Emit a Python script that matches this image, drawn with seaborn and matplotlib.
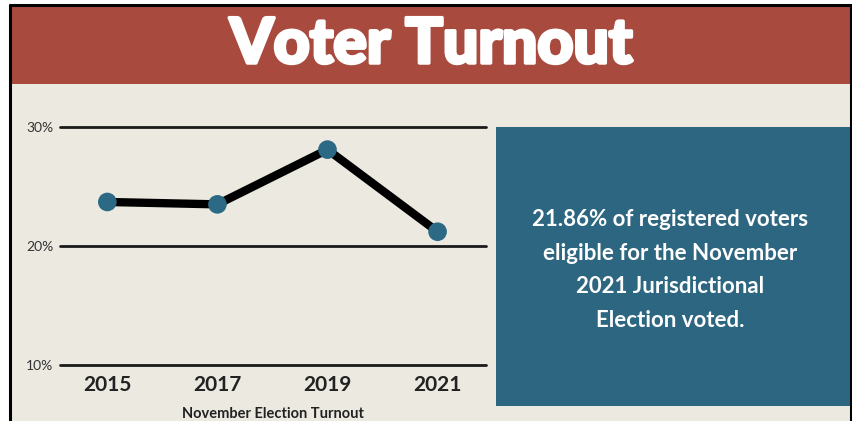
import matplotlib
matplotlib.use("Agg")
import matplotlib.pyplot as plt
import matplotlib.patheffects as pe
from matplotlib.patches import Rectangle
from matplotlib.lines import Line2D
import seaborn as sns
import pandas as pd

# data
years = ["2015", "2017", "2019", "2021"]
turnout = [23.7, 23.5, 28.1, 21.2]
y_ticks = [10, 20, 30]
y_tick_labels = ["10%", "20%", "30%"]
title = "Voter Turnout"
x_title = "November Election Turnout"
note = "21.86% of registered voters\neligible for the November\n2021 Jurisdictional\nElection voted."

RED = "#a84a3d"
TEAL = "#2d6680"
DOT = "#2b6984"
BEIGE = "#ece9e1"

sns.set_theme(style="white")
plt.rcParams["font.family"] = ["Lato", "DejaVu Sans"]

W, H = 853, 421
fig = plt.figure(figsize=(W / 100, H / 100), dpi=100)
fig.patch.set_facecolor("white")


def fx(px):
    return px / W


def fy(py):
    return 1 - py / H


# page background, banner and frame (behind the axes)
fig.patches.append(Rectangle((fx(11), 0), fx(840), fy(6), transform=fig.transFigure,
                             facecolor=BEIGE, edgecolor="none", zorder=-3))
fig.patches.append(Rectangle((fx(11), fy(84)), fx(840), fy(7) - fy(84), transform=fig.transFigure,
                             facecolor=RED, edgecolor="none", zorder=-2))
for xs, ys in [([fx(10), fx(10)], [0, fy(5)]), ([fx(851), fx(851)], [0, fy(5)]),
               ([fx(10), fx(851)], [fy(5), fy(5)])]:
    fig.lines.append(Line2D(xs, ys, transform=fig.transFigure, color="black", lw=2.2, zorder=5))

fig.text(fx(431), fy(45), title, ha="center", va="center", color="white",
         fontsize=45, fontweight="black", zorder=3,
         path_effects=[pe.withStroke(linewidth=2.5, foreground="white")])

# teal note box
fig.patches.append(Rectangle((fx(496), fy(406)), fx(850) - fx(496), fy(127) - fy(406),
                             transform=fig.transFigure, facecolor=TEAL, edgecolor="none", zorder=-2))
fig.text(fx(670), fy(270), note, ha="center", va="center", color="white",
         fontsize=16, fontweight="bold", linespacing=1.76, zorder=3)

# line chart
ax = fig.add_axes([fx(60), fy(365), fx(486) - fx(60), fy(127) - fy(365)])
ax.set_facecolor("none")
df = pd.DataFrame({"year": years, "turnout": turnout})
sns.lineplot(data=df, x="year", y="turnout", color="black", lw=6, ax=ax, zorder=3)
sns.scatterplot(data=df, x="year", y="turnout", color=DOT, s=180, edgecolor="none", ax=ax, zorder=4)

for t in y_ticks:
    ax.axhline(t, color="#1a1a1a", lw=2, zorder=1, clip_on=False)

ax.set_ylim(10, 30)
ax.set_xlim(-0.43, 3.44)
ax.set_yticks(y_ticks)
ax.set_yticklabels(y_tick_labels, fontsize=10, color="#333333")
ax.tick_params(axis="y", length=0, pad=5)
ax.tick_params(axis="x", length=0, pad=7)
for lab in ax.get_xticklabels():
    lab.set_fontsize(15)
    lab.set_fontweight("bold")
    lab.set_color("#222222")
ax.set_xlabel(x_title, fontsize=10.5, fontweight="bold", color="#222222", labelpad=9)
ax.set_ylabel("")
for s in ax.spines.values():
    s.set_visible(False)

fig.savefig("out.png", dpi=100, facecolor=fig.get_facecolor())
